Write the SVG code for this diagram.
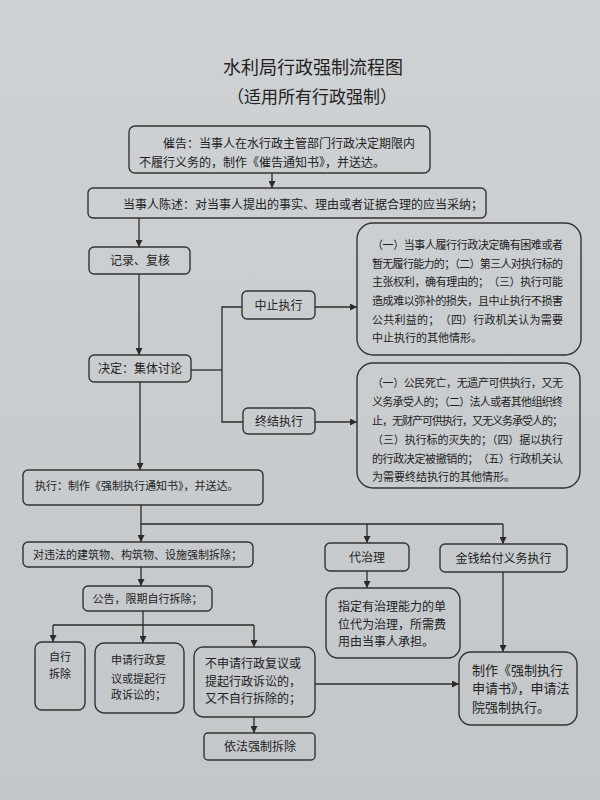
<svg xmlns="http://www.w3.org/2000/svg" width="600" height="800" viewBox="0 0 600 800">
<defs>
<linearGradient id="bg" x1="0" y1="0" x2="0" y2="1">
<stop offset="0" stop-color="#cfd2d4"/>
<stop offset="1" stop-color="#c3c7ca"/>
</linearGradient>
<marker id="ah" viewBox="0 0 10 10" refX="10" refY="5" markerWidth="7" markerHeight="7" markerUnits="userSpaceOnUse" orient="auto">
<path d="M0,0 L10,5 L0,10 z" fill="#2a2a2a"/>
</marker>
<style>
.b{fill:none;stroke:#333;stroke-width:1.4}
.t{font-family:"Noto Sans CJK SC","Noto Sans CJK JP",sans-serif;fill:#222;font-size:12px}
.c{text-anchor:middle}
.s{font-size:11px}
.l{fill:none;stroke:#2a2a2a;stroke-width:1.3}
.a{fill:none;stroke:#2a2a2a;stroke-width:1.3;marker-end:url(#ah)}
</style>
</defs>
<rect x="0" y="0" width="600" height="800" fill="url(#bg)"/>
<g id="title">
<text class="t c" x="313" y="74" style="font-size:18px">水利局行政强制流程图</text>
<text class="t c" x="312" y="103" style="font-size:17px">（适用所有行政强制）</text>
</g>
<g id="connectors">
<line class="a" x1="272" y1="173" x2="272" y2="188"/>
<line class="a" x1="139" y1="218" x2="139" y2="247"/>
<line class="a" x1="139" y1="274" x2="139" y2="355"/>
<polyline class="l" points="191,370 222,370"/>
<polyline class="l" points="242,307 222,307 222,422 243,422"/>
<line class="a" x1="315" y1="307" x2="357" y2="307"/>
<line class="a" x1="315" y1="422" x2="357" y2="422"/>
<line class="a" x1="140" y1="382" x2="140" y2="470"/>
<polyline class="l" points="141,505 141,524 503,524"/>
<line class="a" x1="141" y1="524" x2="141" y2="542"/>
<line class="a" x1="367" y1="524" x2="367" y2="543"/>
<line class="a" x1="503" y1="524" x2="503" y2="544"/>
<line class="a" x1="141" y1="567" x2="141" y2="586"/>
<polyline class="l" points="143,611 143,625"/>
<polyline class="l" points="53,625 254,625"/>
<line class="a" x1="53" y1="625" x2="53" y2="642"/>
<line class="a" x1="143" y1="625" x2="143" y2="643"/>
<line class="a" x1="254" y1="625" x2="254" y2="647"/>
<line class="a" x1="254" y1="717" x2="254" y2="733"/>
<line class="a" x1="315" y1="684" x2="459" y2="684"/>
<line class="a" x1="367" y1="571" x2="367" y2="588"/>
<line class="a" x1="503" y1="572" x2="503" y2="652"/>
</g>
<g id="n-cuigao">
<rect class="b" x="129" y="126" width="301" height="47" rx="6"/>
<text class="t" x="163" y="148">催告：当事人在水行政主管部门行政决定期限内</text>
<text class="t" x="139" y="167">不履行义务的，制作《催告通知书》，并送达。</text>
</g>
<g id="n-chenshu">
<rect class="b" x="88" y="188" width="398" height="30" rx="5"/>
<text class="t" x="123" y="209">当事人陈述：对当事人提出的事实、理由或者证据合理的应当采纳；</text>
</g>
<g id="n-jilu">
<rect class="b" x="89" y="247" width="101" height="27" rx="5"/>
<text class="t c" x="140" y="265">记录、复核</text>
</g>
<g id="n-jueding">
<rect class="b" x="89" y="355" width="102" height="27" rx="5"/>
<text class="t c" x="140" y="373">决定：集体讨论</text>
</g>
<g id="n-zhongzhi">
<rect class="b" x="242" y="291" width="73" height="28" rx="5"/>
<text class="t c" x="278.5" y="309.5">中止执行</text>
</g>
<g id="n-zhongjie">
<rect class="b" x="243" y="408" width="72" height="26" rx="5"/>
<text class="t c" x="279" y="425.5">终结执行</text>
</g>
<g id="n-zhongzhi-desc">
<rect class="b" x="357" y="223" width="224" height="132" rx="16"/>
<text class="t s" x="372" y="249" textLength="191" lengthAdjust="spacing">（一）当事人履行行政决定确有困难或者</text>
<text class="t s" x="372" y="267.5" textLength="191" lengthAdjust="spacing">暂无履行能力的；（二）第三人对执行标的</text>
<text class="t s" x="372" y="286" textLength="191" lengthAdjust="spacing">主张权利，确有理由的；　（三）执行可能</text>
<text class="t s" x="372" y="305" textLength="191" lengthAdjust="spacing">造成难以弥补的损失，且中止执行不损害</text>
<text class="t s" x="372" y="324" textLength="191" lengthAdjust="spacing">公共利益的；　（四）行政机关认为需要</text>
<text class="t s" x="372" y="342">中止执行的其他情形。</text>
</g>
<g id="n-zhongjie-desc">
<rect class="b" x="357" y="363" width="223" height="125" rx="16"/>
<text class="t s" x="372" y="387" textLength="191" lengthAdjust="spacing">（一）公民死亡，无遗产可供执行，又无</text>
<text class="t s" x="372" y="406" textLength="191" lengthAdjust="spacing">义务承受人的；（二）法人或者其他组织终</text>
<text class="t s" x="372" y="425" textLength="191" lengthAdjust="spacing">止，无财产可供执行，又无义务承受人的；</text>
<text class="t s" x="372" y="444" textLength="191" lengthAdjust="spacing">（三）执行标的灭失的；（四）据以执行</text>
<text class="t s" x="372" y="463" textLength="191" lengthAdjust="spacing">的行政决定被撤销的；　（五）行政机关认</text>
<text class="t s" x="372" y="481">为需要终结执行的其他情形。</text>
</g>
<g id="n-zhixing">
<rect class="b" x="23" y="470" width="240" height="35" rx="5"/>
<text class="t s" x="35" y="490">执行：制作《强制执行通知书》，并送达。</text>
</g>
<g id="n-chaichu">
<rect class="b" x="23" y="542" width="230" height="25" rx="5"/>
<text class="t s" x="33" y="559">对违法的建筑物、构筑物、设施强制拆除；</text>
</g>
<g id="n-gonggao">
<rect class="b" x="83" y="586" width="129" height="25" rx="5"/>
<text class="t s c" x="147.5" y="603">公告，限期自行拆除；</text>
</g>
<g id="n-zixing">
<rect class="b" x="35" y="642" width="50" height="68" rx="7"/>
<text class="t s c" x="60" y="661">自行</text>
<text class="t s c" x="60" y="678">拆除</text>
</g>
<g id="n-shenqing">
<rect class="b" x="95" y="643" width="89" height="70" rx="9"/>
<text class="t s" x="111" y="664">申请行政复</text>
<text class="t s" x="111" y="683">议或提起行</text>
<text class="t s" x="111" y="699">政诉讼的；</text>
</g>
<g id="n-bushenqing">
<rect class="b" x="194" y="647" width="121" height="70" rx="9"/>
<text class="t" x="205" y="667.5">不申请行政复议或</text>
<text class="t" x="205" y="685.5">提起行政诉讼的，</text>
<text class="t" x="205" y="702.5">又不自行拆除的；</text>
</g>
<g id="n-yifa">
<rect class="b" x="204" y="733" width="111" height="27" rx="4"/>
<text class="t c" x="260" y="751">依法强制拆除</text>
</g>
<g id="n-daizhili">
<rect class="b" x="325" y="543" width="84" height="28" rx="5"/>
<text class="t c" x="367" y="561.5">代治理</text>
</g>
<g id="n-zhiding">
<rect class="b" x="326" y="588" width="134" height="70" rx="12"/>
<text class="t" x="338" y="610.5">指定有治理能力的单</text>
<text class="t" x="338" y="628.5">位代为治理，所需费</text>
<text class="t" x="338" y="645.5">用由当事人承担。</text>
</g>
<g id="n-jinqian">
<rect class="b" x="440" y="544" width="127" height="28" rx="5"/>
<text class="t c" x="503.5" y="562.5">金钱给付义务执行</text>
</g>
<g id="n-zhizuo">
<rect class="b" x="459" y="652" width="118" height="73" rx="12"/>
<text class="t" x="472" y="675" style="font-size:13px">制作《强制执行</text>
<text class="t" x="472" y="693" style="font-size:13px">申请书》，申请法</text>
<text class="t" x="472" y="712" style="font-size:13px">院强制执行。</text>
</g>
</svg>
